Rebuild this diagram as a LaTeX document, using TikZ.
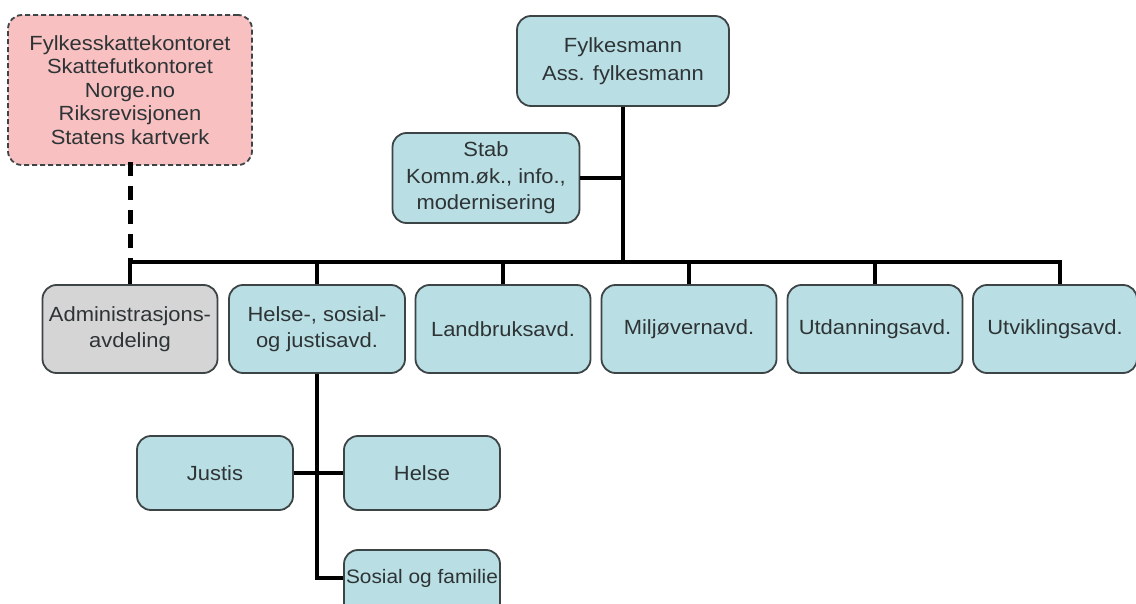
\documentclass[tikz,border=0pt]{standalone}
\usepackage{fontspec}
\setmainfont{Liberation Sans}[FakeStretch=1.07]
\definecolor{boxc}{HTML}{B9DEE3}
\definecolor{pinkc}{HTML}{F8C0C1}
\definecolor{grayc}{HTML}{D5D5D5}
\definecolor{edgec}{HTML}{3C4446}
\definecolor{txtc}{HTML}{2E3436}
\begin{document}
\begin{tikzpicture}[x=1pt,y=-1pt,
  orgbox/.style={draw=edgec, line width=1.8pt, fill=boxc, rounded corners=14pt,
    align=center, inner sep=0pt, text=txtc,
    font=\fontsize{20.5}{26.5}\selectfont},
  link/.style={line width=4pt, black}]
\useasboundingbox (0,0) rectangle (1136,604);
\fill[white] (0,0) rectangle (1136,604);
\node[orgbox, fill=pinkc, dashed, dash pattern=on 5pt off 3pt, minimum width=244pt, minimum height=150pt,
  font=\fontsize{20.5}{23.5}\selectfont] (pink) at (130,90)
  {Fylkesskattekontoret\\Skattefutkontoret\\Norge.no\\Riksrevisjonen\\Statens kartverk};
\node[orgbox, minimum width=212pt, minimum height=90pt, font=\fontsize{20.5}{28}\selectfont] (fylk) at (623,61) {Fylkesmann\\Ass. fylkesmann};
\node[orgbox, minimum width=187pt, minimum height=90pt] (stab) at (486,178) {Stab\\Komm.øk., info.,\\modernisering};
\coordinate (bus) at (0,262);
\node[orgbox, fill=grayc, minimum width=175pt, minimum height=88pt] (admin) at (130,329) {Administrasjons-\\avdeling};
\node[orgbox, minimum width=176pt, minimum height=88pt] (helse) at (317,329) {Helse-, sosial-\\og justisavd.};
\node[orgbox, minimum width=175pt, minimum height=88pt] (land) at (503,329) {Landbruksavd.};
\node[orgbox, minimum width=175pt, minimum height=88pt] (milj) at (689,329) {Miljøvernavd.};
\node[orgbox, minimum width=175pt, minimum height=88pt] (utd) at (875,329) {Utdanningsavd.};
\node[orgbox, minimum width=164pt, minimum height=88pt] (utv) at (1055,329) {Utviklingsavd.};
\node[orgbox, minimum width=156pt, minimum height=74pt] (justis) at (215,473) {Justis};
\node[orgbox, minimum width=156pt, minimum height=74pt] (helsesub) at (422,473) {Helse};
\node[orgbox, minimum width=156pt, minimum height=80pt] (sosial) at (422,590) {};
\node[text=txtc, font=\fontsize{19.5}{25}\selectfont, inner sep=0pt] (sosialtxt) at (422,578) {Sosial og familie};
% connectors
\draw[link] (fylk.south) -- (fylk.south |- bus);
\draw[link] (stab.east) -- (stab.east -| fylk.south);
\draw[link] ([xshift=-2pt]admin.north |- bus) -- ([xshift=7pt]utv.north |- bus);
\draw[link] (helse.north) -- (helse.north |- bus);
\draw[link] (land.north) -- (land.north |- bus);
\draw[link] (milj.north) -- (milj.north |- bus);
\draw[link] (utd.north) -- (utd.north |- bus);
\draw[link] ([xshift=5pt]utv.north) -- ([xshift=5pt]utv.north |- bus);
\draw[link] (admin.north) -- (admin.north |- bus);
\draw[line width=5pt, dash pattern=on 14pt off 10pt] ([yshift=4pt]pink.south) -- (admin.north |- bus);
\draw[link] (helse.south) -- (helse.south |- sosialtxt) -- (sosial.west |- sosialtxt);
\draw[link] (justis.east) -- (helsesub.west);
\end{tikzpicture}
\end{document}
